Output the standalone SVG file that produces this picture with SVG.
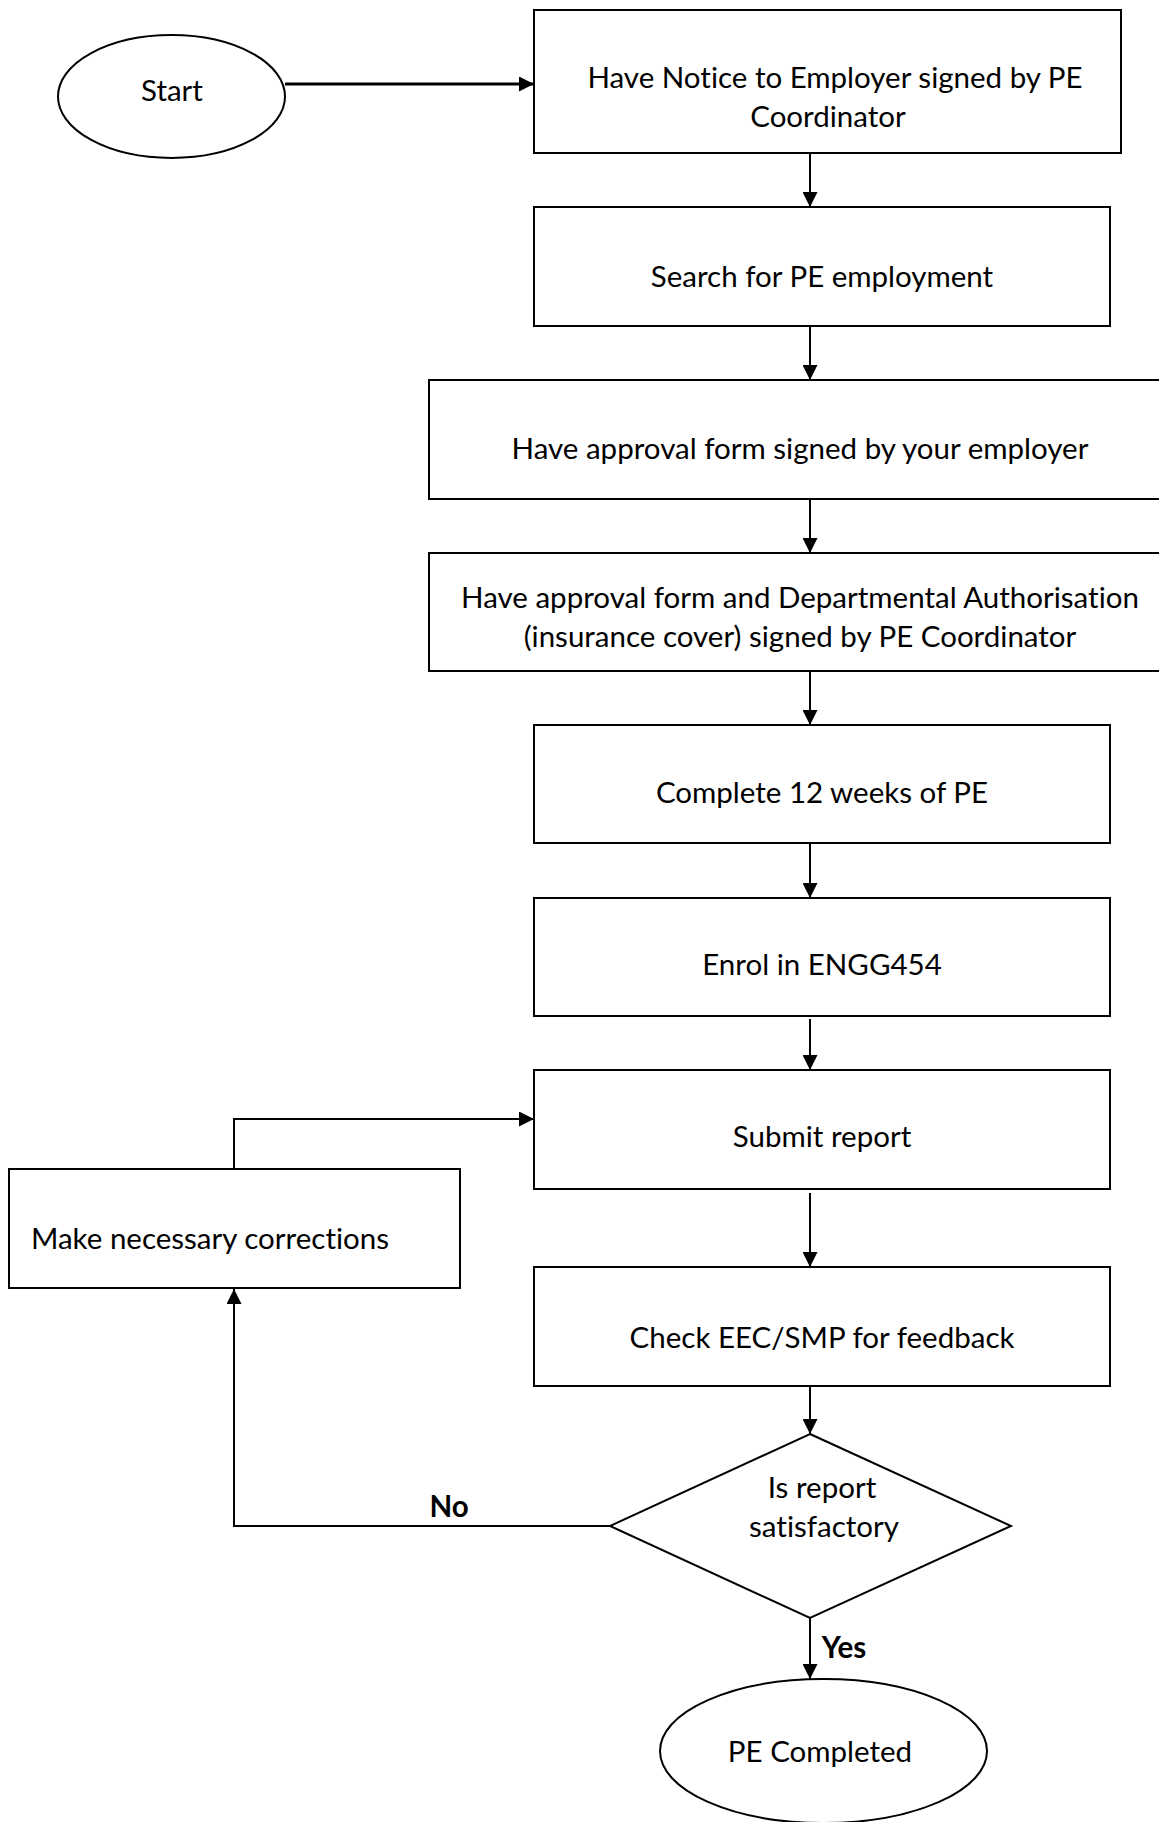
<svg xmlns="http://www.w3.org/2000/svg" width="1159" height="1822" viewBox="0 0 1159 1822">
<style>
.box{fill:#fff;stroke:#000;stroke-width:2}
.t{font-family:Lato,"Liberation Sans",sans-serif;font-size:29.5px;fill:#000;text-anchor:middle;font-variant-ligatures:none;font-feature-settings:"liga" 0,"dlig" 0}
.b{font-weight:bold}
.c{fill:none;stroke:#000;stroke-width:2}
.thick{stroke-width:3}
</style>
<defs>
<marker id="ah" viewBox="0 0 15 15" refX="15" refY="7.5" markerWidth="15" markerHeight="15" markerUnits="userSpaceOnUse" orient="auto">
<path d="M0,0 L15,7.5 L0,15 Z" fill="#000"/>
</marker>
</defs>
<rect width="1159" height="1822" fill="#fff"/>
<g id="connectors">
<line class="c thick" x1="285" y1="84" x2="534" y2="84" marker-end="url(#ah)"/>
<line class="c" x1="810" y1="153" x2="810" y2="207" marker-end="url(#ah)"/>
<line class="c" x1="810" y1="326" x2="810" y2="380" marker-end="url(#ah)"/>
<line class="c" x1="810" y1="499" x2="810" y2="553" marker-end="url(#ah)"/>
<line class="c" x1="810" y1="671" x2="810" y2="725" marker-end="url(#ah)"/>
<line class="c" x1="810" y1="843" x2="810" y2="898" marker-end="url(#ah)"/>
<line class="c" x1="810" y1="1019" x2="810" y2="1070" marker-end="url(#ah)"/>
<line class="c" x1="810" y1="1193" x2="810" y2="1267" marker-end="url(#ah)"/>
<line class="c" x1="810" y1="1386" x2="810" y2="1434" marker-end="url(#ah)"/>
<line class="c" x1="810" y1="1618" x2="810" y2="1679" marker-end="url(#ah)"/>
<polyline class="c" points="234,1169 234,1119 534,1119" marker-end="url(#ah)"/>
<polyline class="c" points="610,1526 234,1526 234,1289" marker-end="url(#ah)"/>
<text class="t b" x="449" y="1517">No</text>
<text class="t b" x="844" y="1658">Yes</text>
</g>
<g id="start">
<ellipse class="box" cx="171.5" cy="96.5" rx="113.5" ry="61.5"/>
<text class="t" x="172" y="101">Start</text>
</g>
<g id="notice">
<rect class="box" x="534" y="10" width="587" height="143"/>
<text class="t" x="835" y="88">Have Notice to Employer signed by PE</text>
<text class="t" x="828" y="127">Coordinator</text>
</g>
<g id="search">
<rect class="box" x="534" y="207" width="576" height="119"/>
<text class="t" x="822" y="287">Search for PE employment</text>
</g>
<g id="approval">
<rect class="box" x="429" y="380" width="745" height="119"/>
<text class="t" x="800" y="459">Have approval form signed by your employer</text>
</g>
<g id="authorisation">
<rect class="box" x="429" y="553" width="745" height="118"/>
<text class="t" x="800" y="608">Have approval form and Departmental Authorisation</text>
<text class="t" x="800" y="647">(insurance cover) signed by PE Coordinator</text>
</g>
<g id="complete">
<rect class="box" x="534" y="725" width="576" height="118"/>
<text class="t" x="822" y="803">Complete 12 weeks of PE</text>
</g>
<g id="enrol">
<rect class="box" x="534" y="898" width="576" height="118"/>
<text class="t" x="822" y="975">Enrol in ENGG454</text>
</g>
<g id="submit">
<rect class="box" x="534" y="1070" width="576" height="119"/>
<text class="t" x="822" y="1147">Submit report</text>
</g>
<g id="corrections">
<rect class="box" x="9" y="1169" width="451" height="119"/>
<text class="t" x="31" y="1249" style="text-anchor:start">Make necessary corrections</text>
</g>
<g id="check">
<rect class="box" x="534" y="1267" width="576" height="119"/>
<text class="t" x="822" y="1348">Check EEC/SMP for feedback</text>
</g>
<g id="decision">
<polygon class="box" points="810,1434 1011,1526 810,1618 610,1526"/>
<text class="t" x="822" y="1498">Is report</text>
<text class="t" x="824" y="1537">satisfactory</text>
</g>
<g id="end">
<ellipse class="box" cx="823.5" cy="1751" rx="163.5" ry="72"/>
<text class="t" x="820" y="1762">PE Completed</text>
</g>
</svg>
